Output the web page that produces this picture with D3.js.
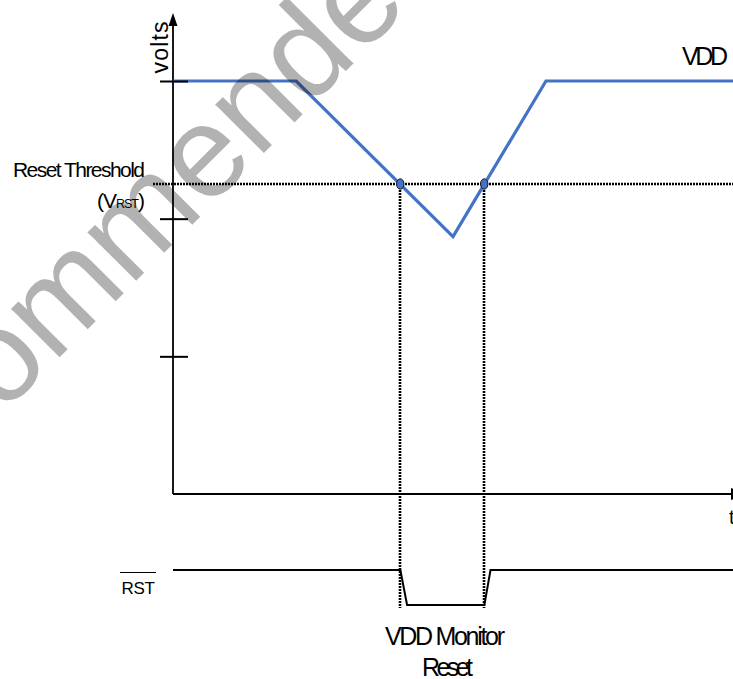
<!DOCTYPE html>
<html>
<head>
<meta charset="utf-8">
<script src="https://cdn.jsdelivr.net/npm/d3@7"></script>
<style>
  html, body { margin: 0; padding: 0; background: #fff; }
  svg { display: block; }
  text { font-family: "Liberation Sans", Arial, sans-serif; fill: #000; }
</style>
</head>
<body>
<svg id="chart" width="733" height="679"></svg>
<script>
// ---- data ----
const vddTimes = [0, 22, 50, 66.6, 100];
const vddVolts = [3, 3, 1.87, 3, 3];
const thresholdVolts = 2.25;
const voltTicks = [1, 2, 3];
const rstTimes = [0, 40.6, 41.8, 55.6, 56.7, 100];
const rstLevels = [1, 1, 0, 0, 1, 1];
const labels = {
  yAxis: "volts", xAxis: "t", vdd: "VDD",
  threshold: "Reset Threshold", rst: "RST",
  monitor1: "VDD Monitor", monitor2: "Reset",
  watermark: "Not Recommended for New Designs"
};

const svg = d3.select("#chart");
const W = 733, H = 679;
const blue = "#4472C4";

const x = d3.scaleLinear().domain([0, 100]).range([173, 733]);
const y = d3.scaleLinear().domain([0, 3]).range([494, 81]);
const yR = d3.scaleLinear().domain([0, 1]).range([605, 570]);

const vdd = vddTimes.map((t, i) => [t, vddVolts[i]]);
const rst = rstTimes.map((t, i) => [t, rstLevels[i]]);

// threshold crossings of VDD line
const crossings = [];
for (let i = 0; i < vdd.length - 1; i++) {
  const [t0, v0] = vdd[i], [t1, v1] = vdd[i + 1];
  if ((v0 - thresholdVolts) * (v1 - thresholdVolts) < 0) {
    crossings.push(t0 + (thresholdVolts - v0) / (v1 - v0) * (t1 - t0));
  }
}

const yThr = Math.round(y(thresholdVolts));

// dotted threshold line
svg.append("line")
  .attr("x1", x(0) - 20).attr("x2", W)
  .attr("y1", yThr).attr("y2", yThr)
  .attr("stroke", "#000").attr("stroke-width", 2.6)
  .attr("stroke-dasharray", "2,1");

// vertical dotted lines
svg.selectAll("line.vdot").data(crossings).join("line")
  .attr("class", "vdot")
  .attr("x1", d => Math.round(x(d))).attr("x2", d => Math.round(x(d)))
  .attr("y1", yThr).attr("y2", yR(0) + 3)
  .attr("stroke", "#000").attr("stroke-width", 2.6)
  .attr("stroke-dasharray", "2,1");

// axes lines
svg.append("line")
  .attr("x1", x(0)).attr("x2", x(0))
  .attr("y1", y(0)).attr("y2", 22)
  .attr("stroke", "#000").attr("stroke-width", 1.8);
svg.append("path")
  .attr("d", `M${x(0)},13 L${x(0) - 4.5},26 L${x(0) + 4.5},26 Z`)
  .attr("fill", "#000");
svg.append("line")
  .attr("x1", x(0)).attr("x2", 735)
  .attr("y1", y(0)).attr("y2", y(0))
  .attr("stroke", "#000").attr("stroke-width", 1.8);
svg.append("path")
  .attr("d", `M731,${y(0) - 6} L745,${y(0)} L731,${y(0) + 6} Z`)
  .attr("fill", "#000");

// VDD line
const line = d3.line().x(d => x(d[0])).y(d => y(d[1]));
svg.append("path").datum(vdd)
  .attr("d", line)
  .attr("fill", "none").attr("stroke", blue)
  .attr("stroke-width", 3.2).attr("stroke-linejoin", "miter");

// y ticks crossing axis
const yAxis = d3.axisLeft(y).tickValues(voltTicks).tickSize(13).tickFormat("");
const gAx = svg.append("g").attr("transform", `translate(${x(0)},0)`).call(yAxis);
gAx.select(".domain").remove();
gAx.selectAll(".tick line").attr("x1", 15).attr("stroke", "#000").attr("stroke-width", 2);

// crossing dots
svg.selectAll("ellipse.cross").data(crossings).join("ellipse")
  .attr("class", "cross")
  .attr("cx", d => x(d)).attr("cy", yThr)
  .attr("rx", 3.7).attr("ry", 5.2)
  .attr("fill", blue).attr("stroke", "#1a1a1a").attr("stroke-width", 1);

// RST signal
const rline = d3.line().x(d => x(d[0])).y(d => yR(d[1]));
svg.append("path").datum(rst)
  .attr("d", rline)
  .attr("fill", "none").attr("stroke", "#000").attr("stroke-width", 2);

// labels
svg.append("text")
  .attr("transform", "translate(168,47.5) rotate(-90)")
  .attr("text-anchor", "middle")
  .attr("font-size", 23)
  .attr("textLength", 52)
  .text(labels.yAxis);

svg.append("text")
  .attr("x", 729).attr("y", 524)
  .attr("font-size", 20)
  .text(labels.xAxis);

svg.append("text")
  .attr("x", 682).attr("y", 65)
  .attr("font-size", 25)
  .attr("textLength", 46)
  .text(labels.vdd);

svg.append("text")
  .attr("x", 13).attr("y", 177)
  .attr("font-size", 21)
  .attr("textLength", 132)
  .text(labels.threshold);

const vr = svg.append("text")
  .attr("x", 144).attr("y", 208)
  .attr("text-anchor", "end")
  .attr("font-size", 21)
  .attr("letter-spacing", -1);
vr.append("tspan").text("(V");
vr.append("tspan").attr("font-size", 12.5).text("RST");
vr.append("tspan").attr("font-size", 21).text(")");

svg.append("text")
  .attr("x", 121.5).attr("y", 593.5)
  .attr("font-size", 17)
  .attr("textLength", 33.5)
  .text(labels.rst);
svg.append("line")
  .attr("x1", 120).attr("x2", 156)
  .attr("y1", 572.5).attr("y2", 572.5)
  .attr("stroke", "#000").attr("stroke-width", 1.2);

svg.append("text")
  .attr("x", 385).attr("y", 645)
  .attr("font-size", 25)
  .attr("textLength", 120)
  .text(labels.monitor1);
svg.append("text")
  .attr("x", 422).attr("y", 676)
  .attr("font-size", 25)
  .attr("textLength", 51)
  .text(labels.monitor2);

// watermark
svg.append("text")
  .attr("transform", "translate(-330,747) rotate(-45)")
  .attr("font-size", 130)
  .style("fill", "#000")
  .attr("fill-opacity", 0.3)
  .text(labels.watermark);
</script>
</body>
</html>
